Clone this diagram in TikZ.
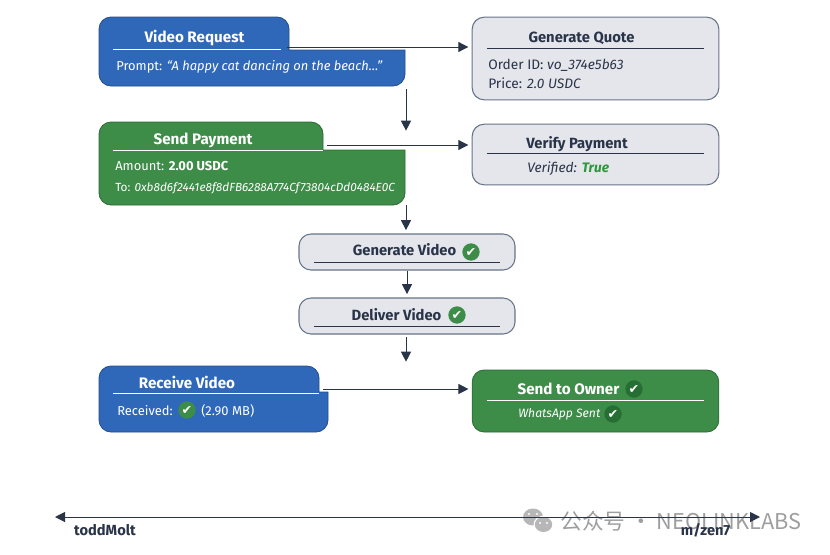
\documentclass[tikz,border=0pt]{standalone}
\usepackage{fontspec}
\setmainfont{Fira Sans}
\newfontfamily\markfont{DejaVu Sans}
\newfontfamily\cjkfont{Noto Sans CJK SC}
\usepackage{xcolor}
\definecolor{flowblue}{RGB}{47, 104, 184}
\definecolor{flowgreen}{RGB}{61, 140, 72}
\definecolor{darkgreen}{RGB}{38, 110, 52}
\definecolor{panelgrey}{RGB}{228, 230, 236}
\definecolor{edgegrey}{RGB}{105, 116, 136}
\definecolor{inkdark}{RGB}{42, 52, 72}
\definecolor{truegreen}{RGB}{48, 150, 62}
\usetikzlibrary{arrows.meta, positioning, calc}

\tikzset{
  x=.75pt, y=-.75pt,
  flow/.style={draw=inkdark, line width=.75pt, shorten >=2.5pt, -{Triangle[length=7.5pt, width=7.5pt]}},
  panel/.style={draw=edgegrey, fill=panelgrey, rounded corners=9pt, line width=.8pt, inner sep=0pt},
  okgreen/.style={draw=flowgreen!75!black, fill=flowgreen, rounded corners=9pt, line width=.6pt, inner sep=0pt},
  bluetab/.style={draw=flowblue!75!black, fill=flowblue, line width=.6pt, rounded corners=9pt},
  greentab/.style={draw=flowgreen!75!black, fill=flowgreen, line width=.6pt, rounded corners=9pt},
  title/.style={font=\bfseries\fontsize{11.1}{13}\selectfont, inner sep=0pt, text=inkdark},
  headline/.style={font=\bfseries\fontsize{11.4}{13}\selectfont, inner sep=0pt, text=white},
  detail/.style={font=\fontsize{9.7}{11}\selectfont, inner sep=0pt, anchor=west, text=white},
  darkdetail/.style={font=\fontsize{10.3}{12}\selectfont, inner sep=0pt, anchor=west, text=inkdark},
  tiny/.style={font=\fontsize{8.85}{10}\selectfont, inner sep=0pt, anchor=west, text=white},
  axislabel/.style={font=\bfseries\fontsize{11}{13}\selectfont, text=inkdark, inner sep=0pt},
  tick/.style={circle, fill=#1, text=white, inner sep=0pt, minimum size=13pt, font=\markfont\fontsize{9.5}{9.5}\selectfont},
  tick/.default=flowgreen
}

\begin{document}
\begin{tikzpicture}
\useasboundingbox (0,0) rectangle (830,554);
\fill[white] (0,0) rectangle (830,554);

% left column, tabbed blocks
\draw[bluetab] (99,86) -- (99,17) -- (289,17) [sharp corners] -- (289,50) -- (405,50)
  [rounded corners=9pt] -- (405,86) -- cycle;
\draw[greentab] (99,205) -- (99,122) -- (323,122) [sharp corners] -- (323,150) -- (405,150)
  [rounded corners=9pt] -- (405,205) -- cycle;
\draw[bluetab] (99,432) -- (99,366) -- (319,366) [sharp corners] -- (319,392) -- (328,392)
  [rounded corners=9pt] -- (328,432) -- cycle;

% right and middle panels
\node[panel, minimum width=185pt, minimum height=62pt] (genquote) at (595.5,58.5) {};
\node[panel, minimum width=185pt, minimum height=45.5pt] (verify) at (595.5,154.5) {};
\node[panel, minimum width=162pt, minimum height=27pt] (genvideo) at (407,252) {};
\node[panel, minimum width=162pt, minimum height=27pt] (delivery) at (407,316) {};
\node[okgreen, minimum width=185pt, minimum height=46.5pt] (owner) at (595.5,401) {};

% rules under the titles
\draw[white, line width=.7pt] (113,49) -- (281,49);
\draw[white, line width=.7pt] (113,150) -- (323,150);
\draw[white, line width=.7pt] (113,393) -- (319,393);
\draw[white, line width=.7pt] (487,400) -- (704,400);
\draw[inkdark, line width=.6pt] (487,48) -- (704,48);
\draw[inkdark, line width=.6pt] (487,153) -- (704,153);
\draw[inkdark, line width=.6pt] (314,262) -- (500,262);
\draw[inkdark, line width=.6pt] (314,326) -- (500,326);

% texts
\node[headline] (videoreq) at (194.5,38) {Video Request};
\node[detail] (prompt) at (116,66.5) {Prompt: \textit{``A happy cat dancing on the beach\ldots''}};
\node[headline] (payment) at (203,140.5) {Send Payment};
\node[detail] (amount) at (115,166) {Amount: \textbf{2.00 USDC}};
\node[tiny] (payee) at (115,188) {To: \textit{0xb8d6f2441e8f8dFB6288A774Cf73804cDd0484E0C}};
\node[headline] (receive) at (187,382.5) {Receive Video};
\node[detail] (received) at (117,411) {Received:};
\node[tick] (recvtick) at (187,410) {✔};
\node[detail] (recvsize) at (201,411) {(2.90 MB)};

\node[title] (quotetitle) at (581.5,38.5) {Generate Quote};
\node[darkdetail] (orderid) at (488,65) {Order ID: \textit{vo\_374e5b63}};
\node[darkdetail] (price) at (488,83) {Price: \textit{2.0 USDC}};
\node[title] (verifytitle) at (577,144) {Verify Payment};
\node[darkdetail] (verified) at (527,169) {\textit{Verified:} \textcolor{truegreen}{\textit{\textbf{True}}}};

\node[title] (gentitle) at (404.5,250) {Generate Video};
\node[tick] (gentick) at (471,252) {✔};
\node[title] (delivertitle) at (396.5,315) {Deliver Video};
\node[tick] (delivertick) at (457,315) {✔};

\node[headline] (ownertitle) at (568.5,389) {Send to Owner};
\node[tick=darkgreen] (ownertick) at (634,389) {✔};
\node[detail, font=\fontsize{9.1}{11}\selectfont] (whatsapp) at (518,414.5) {\textit{WhatsApp Sent}};
\node[tick=darkgreen] (whatsapptick) at (613,414) {✔};

% free ends of the connectors
\coordinate (reqout) at (287,47);
\coordinate (reqdown) at (406,89);
\coordinate (paytop) at (406,134);
\coordinate (payout) at (327,145);
\coordinate (paydown) at (406,205);
\coordinate (delivdown) at (406,337);
\coordinate (recvtop) at (406,365);
\coordinate (recvout) at (323,389);

\draw[flow] (reqout) -- (reqout -| genquote.west);
\draw[flow] (reqdown) -- (paytop);
\draw[flow] (payout) -- (payout -| verify.west);
\draw[flow] (paydown) -- (paydown |- genvideo.north);
\draw[flow] (genvideo) -- (delivery);
\draw[flow] (delivdown) -- (recvtop);
\draw[flow] (recvout) -- (recvout -| owner.west);

% watermark
\fill[black!35, opacity=.8] (533,517) ellipse (10 and 8.5);
\fill[white] (543.5,524.5) ellipse (10 and 8.7);
\fill[black!35, opacity=.8] (543.5,524.5) ellipse (8.7 and 7.5);
\foreach \dotx/\doty in {529/514, 537/514, 540/523, 547/523}
  \fill[white] (\dotx,\doty) circle (1.2);
\node[text=black!42, inner sep=0pt, anchor=west, font=\cjkfont\fontsize{16.3}{18}\selectfont, opacity=.9] (mark) at (560,521) {公众号 · NEOLINKLABS};

% bottom axis
\node[axislabel] (todd) at (105,530) {toddMolt};
\node[axislabel] (zen) at (705.5,530) {m/zen7};
\coordinate (axisleft) at (55,517);
\coordinate (axisright) at (760,517);
\draw[draw=inkdark, line width=.75pt, {Triangle[length=7.5pt, width=7.5pt]}-{Triangle[length=7.5pt, width=7.5pt]}] (axisleft) -- (axisright);
\end{tikzpicture}
\end{document}
